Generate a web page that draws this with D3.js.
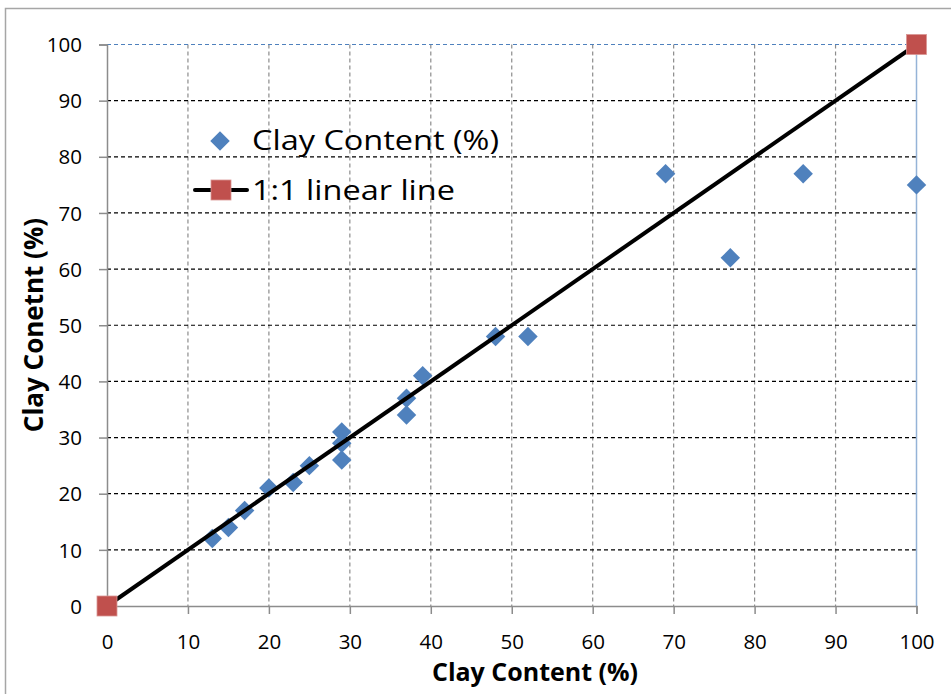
<html>
<head>
<script src="https://d3js.org/d3.v7.min.js"></script>
<style>
  body { margin: 0; background: #fff; }
  text { font-family: "Open Sans", Lato, sans-serif; fill: #000; }
</style>
</head>
<body>
<div id="chart"></div>
<script>
// measured clay content vs. predicted
var clay_x = [13, 15, 17, 20, 23, 25, 29, 29, 29, 37, 37, 39, 48, 52, 69, 77, 86, 100];
var clay_y = [12, 14, 17, 21, 22, 25, 31, 29, 26, 37, 34, 41, 48, 48, 77, 62, 77, 75];
var line_x = [0, 100];
var line_y = [0, 100];
var ticks = [0, 10, 20, 30, 40, 50, 60, 70, 80, 90, 100];

var width = 951, height = 694;
var margin = { top: 44.5, right: 34.5, bottom: 88, left: 107 };
var w = width - margin.left - margin.right;
var h = height - margin.top - margin.bottom;

var svg = d3.select("#chart").append("svg")
    .attr("width", width)
    .attr("height", height);

// outer frame (cut off on the right and bottom)
svg.append("rect")
    .attr("x", 5.5).attr("y", 8.5)
    .attr("width", 960).attr("height", 700)
    .attr("fill", "none")
    .attr("stroke", "#a6a6a6")
    .attr("stroke-width", 1.5);

var g = svg.append("g")
    .attr("transform", `translate(${margin.left},${margin.top})`);

var x = d3.scaleLinear().domain([0, 100]).range([0, w]);
var y = d3.scaleLinear().domain([0, 100]).range([h, 0]);

// vertical grid
g.append("g").selectAll("line")
    .data(ticks.filter(d => d > 0 && d < 100))
    .join("line")
    .attr("x1", d => x(d)).attr("x2", d => x(d))
    .attr("y1", 0).attr("y2", h)
    .attr("stroke", "#8c8c8c")
    .attr("stroke-width", 1.2)
    .attr("stroke-dasharray", "4,3");

// horizontal grid
g.append("g").selectAll("line")
    .data(ticks.filter(d => d > 0 && d < 100))
    .join("line")
    .attr("x1", 0).attr("x2", w)
    .attr("y1", d => y(d)).attr("y2", d => y(d))
    .attr("stroke", "#000")
    .attr("stroke-width", 1.2)
    .attr("stroke-dasharray", "4,3");

// top and right edges of plot
g.append("line")
    .attr("x1", 0).attr("x2", w).attr("y1", y(100)).attr("y2", y(100))
    .attr("stroke", "#4f81bd").attr("stroke-width", 1.2)
    .attr("stroke-dasharray", "4,3");
g.append("line")
    .attr("x1", x(100)).attr("x2", x(100)).attr("y1", 0).attr("y2", h)
    .attr("stroke", "#95b3d7").attr("stroke-width", 1.5);

// axes
var xAxis = g.append("g")
    .attr("transform", `translate(0,${h})`)
    .call(d3.axisBottom(x).tickValues(ticks).tickSize(8).tickPadding(20));
var yAxis = g.append("g")
    .call(d3.axisLeft(y).tickValues(ticks).tickSize(8).tickPadding(17));

[xAxis, yAxis].forEach(function(a) {
    a.select(".domain").attr("stroke", "#8c8c8c").attr("stroke-width", 1.5);
    a.selectAll(".tick line").attr("stroke", "#8c8c8c").attr("stroke-width", 1.5);
    a.selectAll(".tick text").style("font-size", "20.5px").attr("fill", "#000");
});
yAxis.selectAll(".tick text").attr("dy", "0.35em");

// axis titles
svg.append("text")
    .attr("x", 535).attr("y", 681)
    .attr("text-anchor", "middle")
    .style("font-size", "25px").style("font-weight", "bold")
    .text("Clay Content (%)");
svg.append("text")
    .attr("transform", "translate(43,325) rotate(-90)")
    .attr("text-anchor", "middle")
    .style("font-size", "26px").style("font-weight", "bold")
    .text("Clay Conetnt (%)");

var diamond = d3.symbol().type(d3.symbolSquare).size(190);

// points
g.append("g").selectAll("path")
    .data(clay_x.map((d, i) => ({ x: d, y: clay_y[i] })))
    .join("path")
    .attr("d", diamond)
    .attr("transform", d => `translate(${x(d.x)},${y(d.y)}) rotate(45)`)
    .attr("fill", "#4f81bd");

// 1:1 line
var line_data = line_x.map((d, i) => ({ x: d, y: line_y[i] }));
g.append("path")
    .datum(line_data)
    .attr("fill", "none")
    .attr("stroke", "#000")
    .attr("stroke-width", 4)
    .attr("d", d3.line().x(d => x(d.x)).y(d => y(d.y)));
g.append("g").selectAll("rect")
    .data(line_data)
    .join("rect")
    .attr("x", d => x(d.x) - 10).attr("y", d => y(d.y) - 10)
    .attr("width", 20).attr("height", 20)
    .attr("fill", "#c0504d")
    .attr("stroke", "#d99694").attr("stroke-width", 0.8);

// legend
var leg = svg.append("g");
leg.append("path")
    .attr("d", diamond)
    .attr("transform", "translate(220,141) rotate(45)")
    .attr("fill", "#4f81bd");
leg.append("text")
    .attr("transform", "translate(252,150) scale(1.16,1)")
    .style("font-size", "28px")
    .text("Clay Content (%)");
leg.append("line")
    .attr("x1", 195).attr("x2", 247).attr("y1", 190).attr("y2", 190)
    .attr("stroke", "#000").attr("stroke-width", 4).attr("stroke-linecap", "round");
leg.append("rect")
    .attr("x", 211).attr("y", 180).attr("width", 20).attr("height", 20)
    .attr("fill", "#c0504d")
    .attr("stroke", "#d99694").attr("stroke-width", 0.8);
leg.append("text")
    .attr("transform", "translate(252,200) scale(1.16,1)")
    .style("font-size", "28px")
    .text("1:1 linear line");
</script>
</body>
</html>
